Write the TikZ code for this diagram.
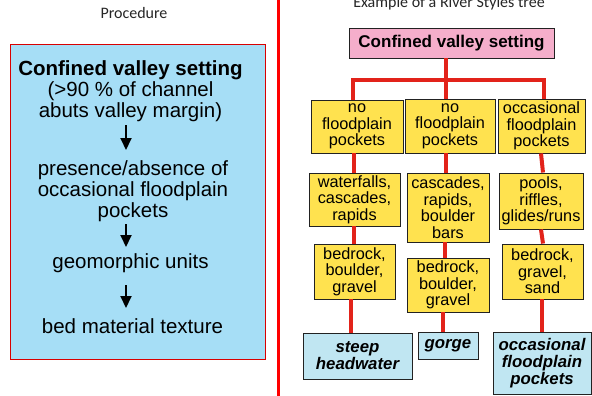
\documentclass[tikz,border=0pt]{standalone}
\usepackage{fontspec}
\setmainfont{Liberation Sans}
\newfontfamily\titlefont{Carlito}
\usetikzlibrary{arrows.meta}
\definecolor{leftblue}{HTML}{A6DEF6}
\definecolor{leafblue}{HTML}{C0E6F2}
\definecolor{ybox}{HTML}{FFE24F}
\definecolor{pbox}{HTML}{F5AECB}
\definecolor{connred}{HTML}{E2231A}
\definecolor{boxline}{HTML}{222222}
\tikzset{
  ptitle/.style={font=\titlefont\fontsize{16}{18}\selectfont, text=black!85, inner sep=0pt, anchor=base},
  ltext/.style={font=\fontsize{20.5}{21}\selectfont, align=center, inner sep=0pt},
  arr/.style={line width=2pt, -{Triangle[width=11pt,length=12pt]}},
  ybx/.style={draw=boxline, line width=0.9pt, fill=ybox, inner sep=0pt, align=center,
    font=\fontsize{16.3}{16.6}\selectfont},
  leaf/.style={draw=boxline, line width=0.9pt, fill=leafblue, inner sep=0pt, align=center,
    font=\fontsize{16.8}{17}\selectfont\bfseries\itshape},
  conn/.style={draw=connred, line width=4pt},
}
\begin{document}
\begin{tikzpicture}[x=1pt,y=-1pt]
\useasboundingbox (0,0) rectangle (592,396);
\fill[white] (0,0) rectangle (592,396);

% ---------- left panel ----------
\node[ptitle] (proc) at (134,19) {Procedure};
\draw[draw=red!85!black, line width=1pt, fill=leftblue] (10,45) rectangle (265,359);
\node[ltext, font=\fontsize{20.5}{21}\selectfont\bfseries] (t1) at (130.5,70) {Confined valley setting};
\node[ltext] (t2) at (130.5,101.5) {(>90 \% of channel\\abuts valley margin)};
\node[ltext] (t3) at (133,191) {presence/absence of\\occasional floodplain\\pockets};
\node[ltext] (t4) at (130.5,263) {geomorphic units};
\node[ltext] (t5) at (132.5,326) {bed material texture};
\coordinate (a1s) at (126,125); \coordinate (a1e) at (126,150);
\coordinate (a2s) at (126,224); \coordinate (a2e) at (126,247);
\coordinate (a3s) at (126,285); \coordinate (a3e) at (126,308);
\draw[arr] (a1s) -- (a1e);
\draw[arr] (a2s) -- (a2e);
\draw[arr] (a3s) -- (a3e);

% divider
\draw[red, line width=3pt] (278,0) -- (278,396);

% ---------- right panel ----------
\node[ptitle] (ex) at (449,8) {Example of a River Styles tree};
\node[draw=boxline, line width=0.9pt, fill=pbox, minimum width=205pt, minimum height=30pt, inner sep=0pt,
  font=\fontsize{17}{18}\selectfont\bfseries] (root) at (451.5,43) {Confined valley setting};

\node[ybx, minimum width=92pt, minimum height=53pt] (y11) at (357,126.5) {no\\floodplain\\pockets};
\node[ybx, minimum width=90pt, minimum height=54pt] (y12) at (450,126) {no\\floodplain\\pockets};
\node[ybx, minimum width=87pt, minimum height=54pt] (y13) at (541.5,126) {occasional\\floodplain\\pockets};

\node[ybx, minimum width=91pt, minimum height=53pt] (y21) at (354.5,199.5) {waterfalls,\\cascades,\\rapids};
\node[ybx, minimum width=82pt, minimum height=69pt] (y22) at (448,207.5) {cascades,\\rapids,\\boulder\\bars};
\node[ybx, minimum width=84pt, minimum height=56pt] (y23) at (541,201) {pools,\\riffles,\\glides/runs};

\node[ybx, minimum width=81pt, minimum height=55pt] (y31) at (354.5,271.5) {bedrock,\\boulder,\\gravel};
\node[ybx, minimum width=82pt, minimum height=54pt] (y32) at (448,285) {bedrock,\\boulder,\\gravel};
\node[ybx, minimum width=81pt, minimum height=55pt] (y33) at (542.5,271.5) {bedrock,\\gravel,\\sand};

\node[leaf, minimum width=109pt, minimum height=46pt] (b1) at (357.5,356) {steep\\headwater};
\node[leaf, minimum width=60pt, minimum height=27pt] (b2) at (448,345.5) {gorge};
\node[leaf, minimum width=98pt, minimum height=62pt] (b3) at (542,363) {occasional\\floodplain\\pockets};

% connectors
\coordinate (bar) at (446,80);
\coordinate (c1) at (353,0);
\coordinate (c3) at (544,0);
\draw[conn] (root.south -| bar) -- (bar);
\draw[conn, line cap=rect] (bar -| c1) -- (bar -| c3);
\draw[conn] (bar -| c1) -- (y11.north -| c1);
\draw[conn] (bar) -- (y12.north -| bar);
\draw[conn] (bar -| c3) -- (y13.north -| c3);

\coordinate (k1) at (354,0);
\coordinate (k2) at (446,0);
\coordinate (k2b) at (445,0);
\coordinate (k2c) at (443,0);
\coordinate (k3a) at (541,0);
\coordinate (k3b) at (543,0);
\coordinate (k3c) at (542,0);
\coordinate (k1c) at (351,0);
\draw[conn] (y11.south -| k1) -- (y21.north -| k1);
\draw[conn] (y12.south -| k2) -- (y22.north -| k2);
\draw[conn] (y13.south -| k3a) -- (y23.north -| k3b);
\draw[conn] (y21.south -| k1) -- (y31.north -| k1);
\draw[conn] (y22.south -| k2b) -- (y32.north -| k2b);
\draw[conn] (y23.south -| k3a) -- (y33.north -| k3b);
\draw[conn] (y31.south -| k1c) -- (b1.north -| k1c);
\draw[conn] (y32.south -| k2c) -- (b2.north -| k2c);
\draw[conn] (y33.south -| k3c) -- (b3.north -| k3c);
\end{tikzpicture}
\end{document}
